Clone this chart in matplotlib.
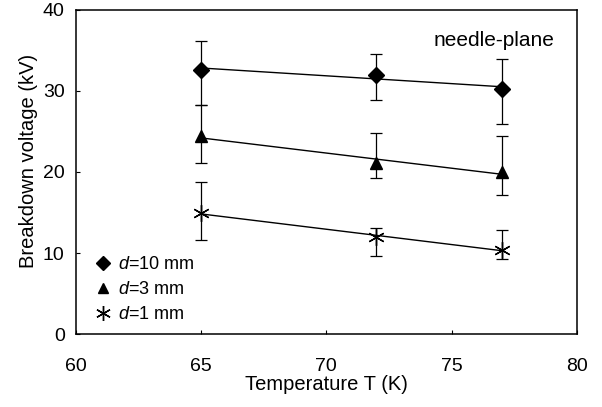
import numpy as np
import matplotlib
matplotlib.use("Agg")
import matplotlib.pyplot as plt

plt.rcParams['font.family'] = ['Liberation Sans', 'DejaVu Sans']
plt.rcParams['mathtext.fontset'] = 'custom'
plt.rcParams['mathtext.it'] = 'Liberation Sans:italic'
plt.rcParams['mathtext.rm'] = 'Liberation Sans'

temps = [65, 72, 77]

d10 = [32.6, 32.0, 30.2]
d10_hi = [36.1, 34.6, 33.9]
d10_lo = [28.3, 28.9, 25.9]

d3 = [24.4, 21.1, 20.0]
d3_hi = [28.3, 24.8, 24.4]
d3_lo = [21.1, 19.2, 17.2]

d1 = [14.9, 12.0, 10.4]
d1_hi = [18.8, 13.1, 12.8]
d1_lo = [11.6, 9.6, 9.3]

labels = [r'$\it{d}$=10 mm', r'$\it{d}$=3 mm', r'$\it{d}$=1 mm']
xticks = [60, 65, 70, 75, 80]
yticks = [0, 10, 20, 30, 40]

fig = plt.figure(figsize=(6.02, 4.07), dpi=100)
ax = fig.add_axes([0.126, 0.179, 0.832, 0.797])

series = [
    (d10, d10_hi, d10_lo, 'D', 8),
    (d3, d3_hi, d3_lo, '^', 8),
    (d1, d1_hi, d1_lo, (6, 2, 0), 12),
]
handles = []
x = np.array(temps, dtype=float)
xl = np.array([65, 77], dtype=float)
for (vals, hi, lo, mk, ms), lab in zip(series, labels):
    v = np.array(vals)
    err = [v - np.array(lo), np.array(hi) - v]
    ax.errorbar(x, v, yerr=err, fmt='none', ecolor='black', elinewidth=0.9,
                capsize=4, capthick=0.9, zorder=2)
    coef = np.polyfit(x, v, 1)
    ax.plot(xl, np.polyval(coef, xl), color='black', lw=1.0, zorder=2)
    h, = ax.plot(x, v, linestyle='none', marker=mk, markersize=ms,
                 color='black', markeredgewidth=1.0, zorder=3, label=lab)
    handles.append(h)

ax.set_xlim(60, 80)
ax.set_ylim(0, 40)
ax.set_xticks(xticks)
ax.set_yticks(yticks)
ax.tick_params(direction='in', length=3, width=0.8, labelsize=14)
ax.tick_params(axis='y', pad=8)
ax.tick_params(axis='x', pad=17)
for s in ax.spines.values():
    s.set_linewidth(1.1)

ax.set_xlabel('Temperature T (K)', fontsize=14.5, labelpad=0)
ax.set_ylabel('Breakdown voltage (kV)', fontsize=14.5)
ax.yaxis.set_label_coords(-0.076, 0.535)

ax.text(0.956, 0.905, 'needle-plane', transform=ax.transAxes,
        ha='right', va='center', fontsize=15)

leg = ax.legend(handles=handles, loc='upper left', bbox_to_anchor=(0.015, 0.28),
                frameon=False, fontsize=13, handlelength=0.8, handletextpad=0.4,
                labelspacing=0.45, borderpad=0.2, markerscale=0.9)

fig.savefig('out.png', dpi=100)
